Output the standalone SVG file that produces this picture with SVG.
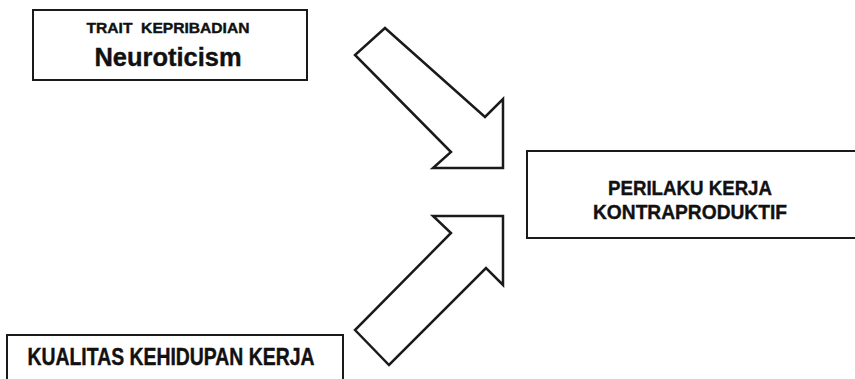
<svg xmlns="http://www.w3.org/2000/svg" width="855" height="379" viewBox="0 0 855 379">
<style>
.box{fill:#fff;stroke:#1a1a1a;stroke-width:2}
.arrow{fill:#fff;stroke:#1a1a1a;stroke-width:2.5;stroke-linejoin:miter}
.t{font-family:"Liberation Sans",Arial,sans-serif;font-weight:bold;fill:#111;stroke:#111;stroke-width:0.4;text-anchor:middle;white-space:pre}
</style>
<rect width="855" height="379" fill="#fff"/>
<g id="node-trait">
<rect class="box" x="33" y="10" width="274" height="70"/>
<text class="t" x="168" y="33" font-size="15" textLength="163" lengthAdjust="spacingAndGlyphs">TRAIT  KEPRIBADIAN</text>
<text class="t" x="168" y="66" font-size="26" textLength="147" lengthAdjust="spacingAndGlyphs">Neuroticism</text>
</g>
<g id="node-perilaku">
<rect class="box" x="527" y="151" width="340" height="87"/>
<text class="t" x="690" y="195" font-size="21" textLength="164" lengthAdjust="spacingAndGlyphs">PERILAKU KERJA</text>
<text class="t" x="690" y="219" font-size="21" textLength="194" lengthAdjust="spacingAndGlyphs">KONTRAPRODUKTIF</text>
</g>
<g id="node-kualitas">
<rect class="box" x="7" y="335" width="336" height="60"/>
<text class="t" x="171" y="365" font-size="23.5" textLength="287" lengthAdjust="spacingAndGlyphs">KUALITAS KEHIDUPAN KERJA</text>
</g>
<g id="connectors">
<polygon class="arrow" points="385,28 485,117 503,99 503,168 433,168 451,152 355,55"/>
<polygon class="arrow" points="355,330 389,365 486,268 503,285 503,216 433,216 451,233"/>
</g>
</svg>
